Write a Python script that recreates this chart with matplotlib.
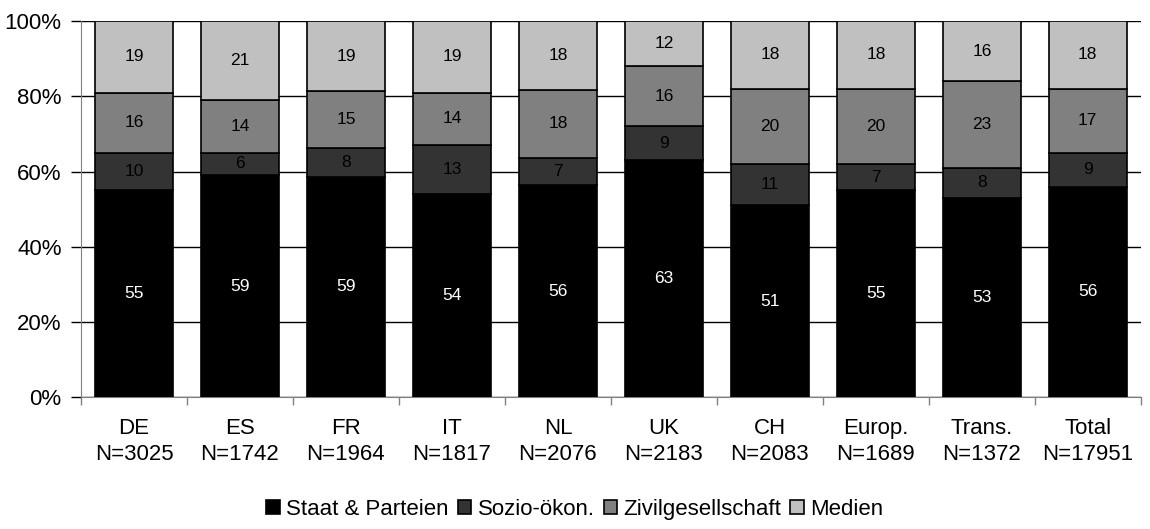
import matplotlib
matplotlib.use("Agg")
import matplotlib.pyplot as plt
import numpy as np
from matplotlib.ticker import FixedLocator, PercentFormatter

plt.rcParams['font.family'] = ['Liberation Sans', 'DejaVu Sans']

categories = ["DE", "ES", "FR", "IT", "NL", "UK", "CH", "Europ.", "Trans.", "Total"]
n_values = ["N=3025", "N=1742", "N=1964", "N=1817", "N=2076", "N=2183", "N=2083", "N=1689", "N=1372", "N=17951"]

staat = [55, 59, 58.6, 54, 56.4, 63, 51, 55, 53, 56]
sozio = [10, 6, 7.7, 13, 7.2, 9, 11, 7, 8, 9]
zivil = [16, 14, 15.1, 14, 18.2, 16, 20, 20, 23, 17]
medien = [19, 21, 18.6, 19, 18.2, 12, 18, 18, 16, 18]

series = [staat, sozio, zivil, medien]
series_names = ["Staat & Parteien", "Sozio-ökon.", "Zivilgesellschaft", "Medien"]
colors = ["#000000", "#333333", "#808080", "#C0C0C0"]
text_colors = ["white", "#000000", "#000000", "#000000"]

fig = plt.figure(figsize=(11.5, 5.29), dpi=100)
ax = fig.add_axes([0.0704, 0.2495, 0.9216, 0.7105])

x = np.arange(len(categories))
bottom = np.zeros(len(categories))
for vals, name, col, tcol in zip(series, series_names, colors, text_colors):
    vals = np.array(vals, dtype=float)
    ax.bar(x, vals, width=0.74, bottom=bottom, color=col, edgecolor="#000000",
           linewidth=1.2, label=name, zorder=3)
    for xi, b, v in zip(x, bottom, vals):
        ax.text(xi, b + v / 2, f"{round(v):d}", ha="center", va="center",
                fontsize=12.5, color=tcol, zorder=4)
    bottom += vals

ax.set_xlim(-0.5, len(categories) - 0.5)
ax.set_ylim(0, 100)
ax.yaxis.set_major_locator(FixedLocator([0, 20, 40, 60, 80, 100]))
ax.yaxis.set_major_formatter(PercentFormatter(decimals=0))
ax.grid(axis="y", color="#000000", linewidth=1.0, zorder=0)
ax.set_axisbelow(True)

ax.set_xticks(x)
ax.set_xticklabels([f"{c}\n{n}" for c, n in zip(categories, n_values)], linespacing=1.3)
ax.set_xticks(np.arange(-0.5, len(categories)), minor=True)
ax.tick_params(axis="x", which="major", length=0, pad=15, labelsize=16)
ax.tick_params(axis="x", which="minor", length=6, color="#808080", width=1)
ax.tick_params(axis="y", length=7, width=1, color="#000000", labelsize=16, pad=7)

for s in ["top", "right"]:
    ax.spines[s].set_visible(False)
ax.spines["left"].set_color("#808080")
ax.spines["bottom"].set_color("#808080")

handles, labels = ax.get_legend_handles_labels()
fig.legend(handles, labels, loc="center", bbox_to_anchor=(0.5, 0.037), ncol=4,
           frameon=False, fontsize=16, handlelength=0.6, handleheight=0.6,
           handletextpad=0.3, columnspacing=0.4, borderaxespad=0)

fig.savefig("out.png", dpi=100)
